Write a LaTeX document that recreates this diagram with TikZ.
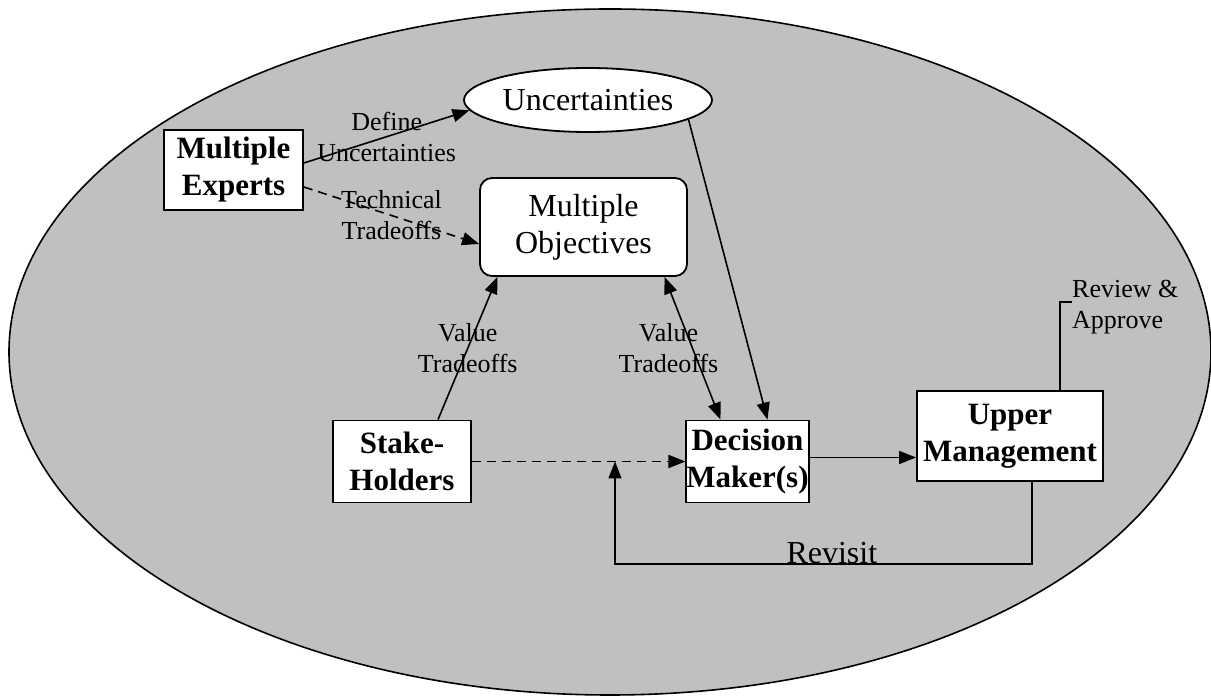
\documentclass[tikz,border=0pt]{standalone}
\usepackage{fontspec}
\setmainfont{Liberation Serif}
\usetikzlibrary{positioning,shapes.geometric,arrows.meta}
\definecolor{silver}{RGB}{192,192,192}
\begin{document}
\begin{tikzpicture}[x=1pt, y=1pt, node distance=100pt]
        \tikzset{ block/.style={rectangle,draw,line width=1.8pt,fill=white,inner sep=0pt,align=center,font=\fontsize{31}{37}\selectfont\bfseries},
                arrow/.style={-{Triangle[length=17pt,width=13pt]}, line width=1.6pt},
                tag/.style={align=center,inner sep=0pt,font=\fontsize{26}{31}\selectfont}}
        \useasboundingbox (0,0) rectangle (1211,696);
        \draw[line width=1.6pt, fill=silver] (610,344) ellipse [x radius=601, y radius=343];

        \node[block, minimum width=139pt, minimum height=80pt] (experts) at (233.5,526) {Multiple\\Experts};
        \node[block, right of = experts, xshift=250pt, yshift=-57pt, rounded corners=12pt, minimum width=207pt, minimum height=98pt, font=\fontsize{32}{37}\selectfont] (obj) {Multiple\\Objectives};
        \node[ellipse, draw, line width=1.8pt, fill=white, inner sep=0pt, above of = obj, xshift=4.5pt, yshift=27pt, minimum width=248pt, minimum height=64pt, font=\fontsize{32}{37}\selectfont] (unc) {Uncertainties};
        \node[block, below of = obj, xshift=-181.5pt, yshift=-134.5pt, minimum width=138pt, minimum height=82pt] (stake) {Stake-\\Holders};
        \node[block, right of = stake, xshift=245.5pt, minimum width=121pt, minimum height=82pt] (dm) {Decision\\Maker(s)};
        \node[block, right of = dm, xshift=162.5pt, yshift=25.5pt, minimum width=186pt, minimum height=90pt] (um) {Upper\\Management};
        \node[tag, anchor=west, align=left] (review) at (1072,389) {Review \&\\Approve};
        \coordinate (join) at (615,234.5);

        % Flèches
        \draw[arrow] ([yshift=7pt]experts.east) -- node[tag] (deflbl) {Define\\Uncertainties} (unc.185);
        \draw[arrow, dash pattern=on 9pt off 6pt] ([yshift=-17pt]experts.east) -- node[tag] (techlbl) {Technical\\Tradeoffs} ([yshift=-17pt]obj.west);
        \draw[arrow] ([xshift=36pt]stake.north) -- node[tag] (vallbl) {Value\\Tradeoffs} ([xshift=-86pt]obj.south);
        \draw[arrow, {Triangle[length=17pt,width=13pt]}-{Triangle[length=17pt,width=13pt]}] ([xshift=81pt]obj.south) -- node[tag, xshift=-24pt] (val2lbl) {Value\\Tradeoffs} ([xshift=-27pt]dm.north);
        \draw[arrow] (unc.-11) -- ([xshift=20pt]dm.north);
        \draw[arrow, dash pattern=on 9pt off 6pt] (stake.east) -- (dm.west);
        \draw[arrow] ([yshift=4pt]dm.east) -- ([yshift=4pt]dm.east -| um.west);
        \draw[line width=1.6pt] ([xshift=50pt]um.north) |- ([yshift=5pt]review.west);
        \draw[arrow] ([xshift=22pt]um.south) -- ++(0,-82) -| node[pos=0.24, anchor=base, inner sep=0pt, font=\fontsize{32}{37}\selectfont] (revisit) {Revisit} (join);

\end{tikzpicture}
\end{document}
